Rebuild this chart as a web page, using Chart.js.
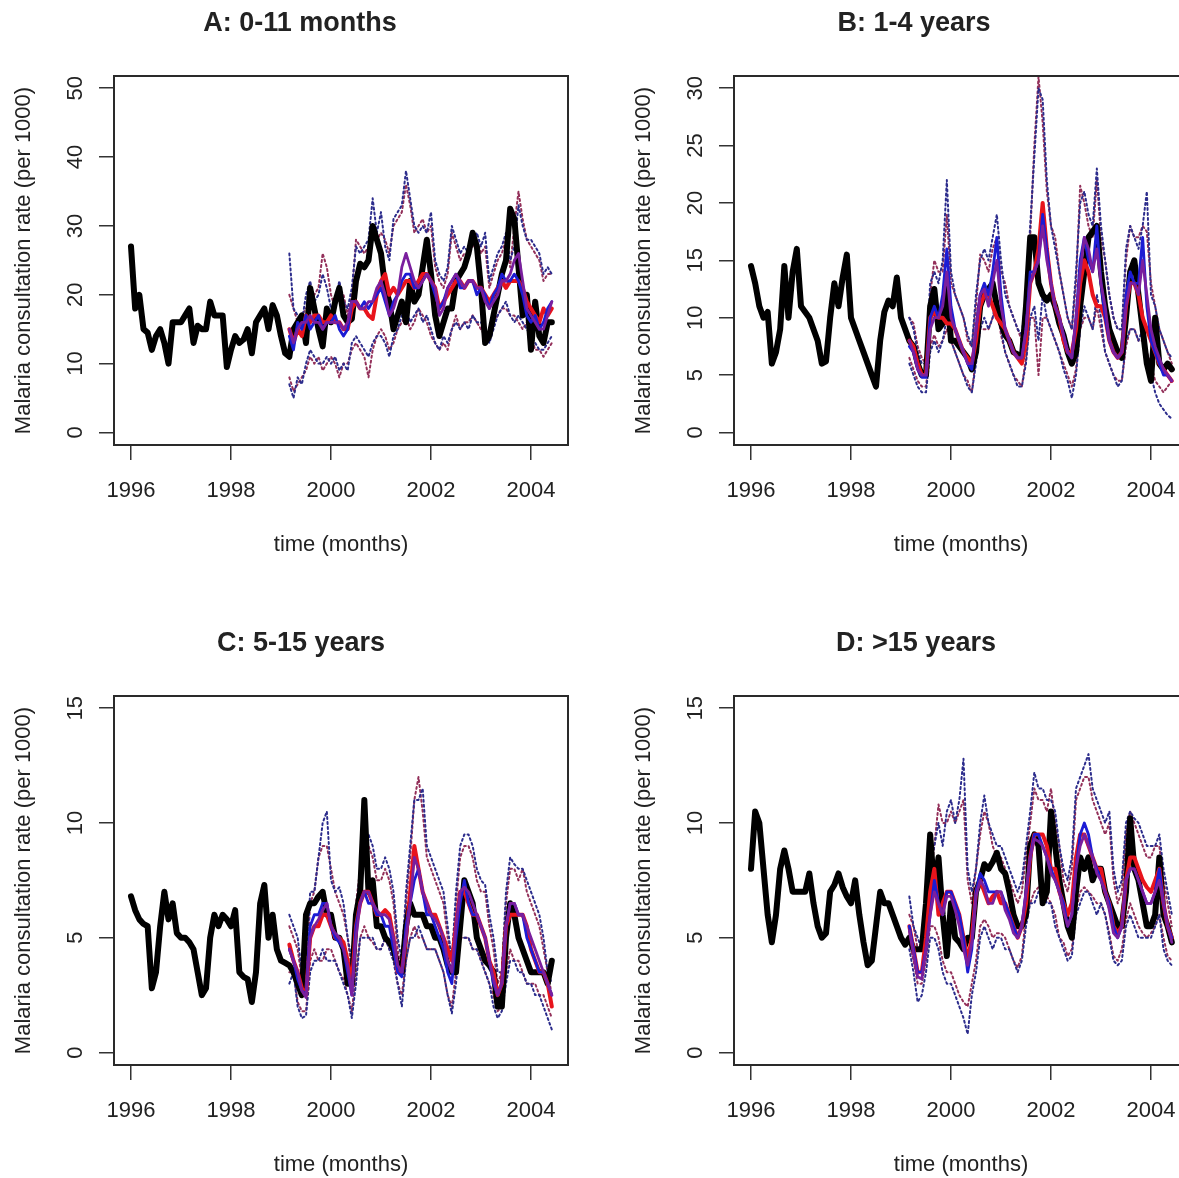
<!DOCTYPE html>
<html>
<head>
<meta charset="utf-8">
<script src="https://cdn.jsdelivr.net/npm/chart.js@4.4.1/dist/chart.umd.min.js"></script>
<style>
  html, body { margin: 0; padding: 0; background: #fff; }
  body { width: 1179px; height: 1178px; overflow: hidden; position: relative; }
  .panel { position: absolute; width: 600px; height: 600px; }
</style>
</head>
<body>
<div class="panel" style="left:0;top:0"><canvas id="panelA" width="600" height="600"></canvas></div>
<div class="panel" style="left:620px;top:0"><canvas id="panelB" width="600" height="600"></canvas></div>
<div class="panel" style="left:0;top:620px"><canvas id="panelC" width="600" height="600"></canvas></div>
<div class="panel" style="left:620px;top:620px"><canvas id="panelD" width="600" height="600"></canvas></div>
<script>
/**********************************************
data (monthly, observed from Jan 1996, predictions from Mar 1999)
***********************************************/

const xTicks = [1996, 1998, 2000, 2002, 2004];
const aYTicks = [0, 10, 20, 30, 40, 50];
const bYTicks = [0, 5, 10, 15, 20, 25, 30];
const cdYTicks = [0, 5, 10, 15];
const titles = ['A: 0-11 months', 'B: 1-4 years', 'C: 5-15 years', 'D: >15 years'];

// A: 0-11 months
const aObs = [
  27, 18, 20, 15, 14.5, 12, 14, 15, 13, 10, 16, 16,
  16, 17, 18, 13, 15.5, 15, 15, 19, 17, 17, 17, 9.5,
  12, 14, 13, 13.5, 15, 11.5, 16, 17, 18, 15, 18.5, 17,
  14, 11.5, 11, 15, 16, 17, 13, 21, 18, 15, 12.5, 18,
  16, 19, 21, 17, 16, 16.5, 22, 24.5, 24, 25, 30, 28,
  26, 21, 19, 15, 17, 19, 16, 22, 19, 20, 24, 28,
  23, 17, 14, 16, 18, 18, 22, 23, 24, 26, 29, 27,
  21, 13, 14, 17, 20, 23, 25, 32.5, 31, 24, 17, 20,
  12, 19, 14, 13, 16, 16
];
const aRed = [
  15, 13, 15, 14, 17, 16, 17, 17, 16, 16,
  17, 16, 16, 15, 15, 18, 19, 18, 18, 17, 16.5, 20,
  22, 23, 20, 21, 20, 21, 22, 22, 21, 22, 23, 23,
  22, 21, 18, 19, 20, 21, 22, 22, 21, 22, 22, 21,
  21, 20, 19, 20, 21, 22, 21, 22, 22, 22, 21, 19,
  18, 17, 16, 18, 17, 18
];
const aBlue = [
  14, 12, 16, 15, 17, 15, 16, 17, 15, 16,
  16, 17, 15, 14, 15, 19, 19, 18, 19, 18, 19, 20,
  21, 19, 17, 19, 20, 22, 23, 23, 21, 21, 22, 23,
  22, 20, 18, 19, 21, 22, 23, 21, 21, 22, 22, 20,
  21, 20, 18, 20, 21, 23, 22, 22, 23, 22, 20, 17,
  16, 17, 15, 16, 18, 19
];
const aPurple = [
  15, 13, 15, 16, 16, 17, 16, 16, 15, 16,
  16, 16, 16, 15, 16, 19, 19, 18, 18, 19, 19, 21,
  22, 20, 17, 18, 20, 24, 26, 24, 22, 21, 22, 23,
  22, 21, 17, 18, 21, 22, 23, 22, 21, 22, 22, 21,
  21, 19, 18, 19, 20, 22, 22, 23, 25, 26, 22, 18,
  17, 16, 15, 15, 17, 19
];
const aNavyUp = [
  26, 18, 17, 16, 20, 22, 19, 20, 23, 21,
  18, 19, 22, 19, 18, 21, 27, 26, 27, 28, 34, 29,
  32, 27, 25, 31, 32, 33, 38, 34, 30, 29, 30, 29,
  32, 25, 23, 22, 24, 30, 28, 26, 27, 26, 28, 29,
  27, 29, 22, 24, 26, 27, 29, 25, 27, 33, 30, 28,
  28, 27, 26, 23, 24, 23
];
const aMaroonUp = [
  20, 18, 16, 17, 18, 19, 20, 21, 26, 24,
  20, 18, 21, 20, 17, 20, 28, 27, 26, 27, 30, 28,
  29, 28, 26, 30, 31, 32, 36, 33, 29, 30, 31, 29,
  30, 24, 22, 21, 23, 29, 27, 25, 26, 26, 27, 28,
  26, 27, 21, 23, 25, 26, 28, 24, 30, 35, 31, 28,
  27, 26, 25, 22, 23, 23
];
const aNavyLo = [
  7, 5, 8, 7, 10, 12, 11, 10, 10, 11,
  10, 11, 9, 10, 9, 13, 14, 13, 12, 11, 13, 14,
  14, 13, 11, 14, 15, 17, 18, 16, 17, 18, 16, 17,
  15, 13, 12, 14, 13, 15, 16, 15, 16, 15, 17, 16,
  16, 15, 13, 15, 17, 18, 19, 17, 16, 17, 16, 15,
  14, 13, 12, 12, 13, 14
];
const aMaroonLo = [
  8, 6, 7, 8, 9, 11, 10, 11, 9, 10,
  11, 10, 8, 10, 10, 12, 13, 12, 11, 8, 12, 14,
  15, 14, 12, 13, 15, 16, 17, 15, 16, 18, 17, 16,
  14, 13, 12, 13, 12, 15, 17, 15, 16, 16, 17, 16,
  15, 14, 14, 16, 17, 18, 18, 17, 17, 16, 15, 16,
  14, 12, 12, 11, 12, 13
];

// B: 1-4 years
const bObs = [
  14.5, 13, 11, 10, 10.5, 6, 7, 9, 14.5, 10, 14, 16,
  11, 10.5, 10, 9, 8, 6, 6.2, 10, 13, 11, 13.5, 15.5,
  10, 9, 8, 7, 6, 5, 4, 8, 10.5, 11.5, 11, 13.5,
  10, 9, 8, 7.5, 6, 5, 5, 11, 12.5, 9, 9.5, 12.5,
  8, 8, 7.5, 7, 6.5, 5.5, 7, 11, 12, 12.5, 13, 11,
  9.5, 8.5, 8, 7, 6.8, 6.5, 11, 17, 17, 13, 12, 11.5,
  12, 11, 9.5, 8.5, 7, 6, 7, 11, 14, 17, 17.5, 18,
  14, 11, 9, 8, 7, 6.5, 10, 14, 15, 12, 9, 6,
  4.5, 10, 6, 5.5, 6, 5.5
];
const bRed = [
  8, 7.5, 6, 5, 5, 10, 10.5, 10, 10, 9.5,
  9.5, 9, 8, 7, 6.5, 6, 8, 11, 12, 12, 11, 10,
  9.5, 9, 8, 7, 6.5, 6, 8, 13, 14, 16, 20, 16,
  13, 11, 10, 8, 7, 7, 9, 13, 15, 14, 12, 11,
  11, 10, 8, 7, 6.5, 7, 11, 13, 13, 12, 10, 9,
  8, 7, 6, 5.5, 5, 4.5
];
const bBlue = [
  7.5, 7, 5.5, 4.8, 4.8, 10, 11, 10, 12, 16,
  11, 9, 8, 7, 6, 5.5, 9, 12, 13, 12, 14, 17,
  12, 9, 8, 7, 6.5, 6.5, 9, 14, 14, 15, 19, 16,
  13, 11, 10, 8.5, 7, 6.5, 10, 15, 17, 15, 14, 18,
  13, 10, 8, 7, 6.5, 7, 12, 14, 13, 13, 17, 11,
  8, 7, 6, 5, 5, 4.5
];
const bPurple = [
  8, 7, 5.5, 5, 5, 9, 10, 10, 11, 14,
  10, 9, 8, 7, 6, 6, 9, 12, 12.5, 11, 13, 15,
  11, 9, 8, 7, 6.5, 6.5, 9, 13, 14, 15, 18, 15,
  13, 11, 10, 8.5, 7, 6.5, 10, 14, 17, 16, 14, 16,
  13, 11, 8, 7, 6.5, 7, 11, 13, 13, 12, 15, 12,
  9, 7.5, 6.5, 5.5, 5, 4.5
];
const bNavyUp = [
  10, 9, 7, 6, 6, 13, 14, 13, 15, 22,
  14, 12, 11, 10, 8.5, 7.5, 12, 15, 16, 15, 17, 19,
  15, 12, 11, 10, 9, 8.5, 12, 18, 24, 30, 29, 22,
  18, 16, 14, 12, 10, 9, 14, 20, 21, 19, 18, 23,
  18, 15, 12, 10, 9, 9, 16, 18, 17, 16, 18, 21,
  12, 11, 9, 8, 7, 6.5
];
const bMaroonUp = [
  10, 9.5, 7.5, 6.5, 6, 12, 15, 14, 14, 19,
  13, 12, 11, 10, 8, 7.5, 11, 15.5, 15, 14, 16, 17,
  14, 13, 11, 10, 9, 8, 11, 17, 25, 31, 27, 21,
  18, 17, 14, 12, 10, 9, 13, 21.5, 20, 18, 17, 22,
  17, 15, 12, 10, 9, 9, 15, 18, 17, 17, 18, 17.5,
  13, 11, 9, 8, 7, 6
];
const bNavyLo = [
  6, 5, 4, 3.5, 3.5, 7, 8, 7, 8, 10,
  8, 7, 6, 5, 4, 3.5, 6, 9, 10, 9, 10, 12,
  9, 7, 6, 5, 4, 4, 6, 10, 11, 8, 12, 10,
  9, 8, 7, 5.5, 4.5, 3, 5, 9, 11, 10, 9, 12,
  10, 7, 6, 5, 4, 4.5, 8, 9, 9, 8, 9, 7,
  5, 3.5, 2.5, 2, 1.5, 1.2
];
const bMaroonLo = [
  6.5, 5.5, 4.5, 4, 4, 7.5, 8.5, 7.5, 8, 9,
  8, 7, 6, 5, 4.5, 3.5, 6.5, 9, 9, 9, 10, 11,
  8.5, 7, 6, 5, 4.5, 4, 6.5, 10, 10, 5, 10, 10,
  9, 8, 7, 6, 5, 4, 5.5, 9, 10, 10, 9, 11,
  9, 7, 6, 5, 4.5, 4.5, 7.5, 9, 9, 8, 8, 7,
  6, 4.5, 4, 3.5, 4, 4.5
];

// C: 5-15 years
const cObs = [
  6.8, 6.2, 5.8, 5.6, 5.5, 2.8, 3.5, 5.5, 7, 5.8, 6.5, 5.2,
  5, 5, 4.8, 4.5, 3.5, 2.5, 2.8, 5, 6, 5.5, 6, 5.8,
  5.5, 6.2, 3.5, 3.3, 3.2, 2.2, 3.5, 6.5, 7.3, 5, 6, 4.5,
  4, 3.9, 3.8, 3.5, 3, 2.5, 6, 6.5, 6.5, 6.8, 7, 6,
  6, 5, 5, 4.5, 3, 3, 6, 7, 11, 7, 7.5, 5.5,
  5.5, 5, 4.8, 4.5, 3.8, 3.5, 5.5, 6.5, 6, 6, 6, 5.5,
  5.5, 5, 5, 4.5, 3.8, 3.5, 3.5, 5.5, 7.5, 7, 6.5, 5,
  4.5, 4, 3.8, 3.5, 2, 2, 5, 6.5, 6, 5, 4.5, 4,
  3.5, 3.5, 3.5, 3.5, 3, 4
];
const cRed = [
  4.7, 4, 3.5, 2.8, 2.5, 5, 5.5, 5.5, 6, 6,
  5.5, 5, 5, 4.8, 4, 3, 5.5, 6.5, 7, 7, 6.5, 6,
  6, 6.2, 6, 5, 3.5, 3.5, 5, 7, 9, 8, 7, 6.5,
  6, 6, 5.5, 5, 4.5, 4, 5.5, 7, 7, 6.5, 6, 6,
  5.5, 5, 4, 3.5, 2.5, 3, 5.5, 6, 6, 6, 6, 5.5,
  4.5, 4, 3.5, 3.5, 3, 2
];
const cBlue = [
  4.5, 4, 3.2, 2.7, 2.5, 5.5, 6, 6, 6.5, 6.5,
  5.5, 5, 4.8, 4.5, 3.5, 2.5, 5.5, 6.5, 7, 6.5, 6.5, 6,
  6, 5.5, 5.5, 4.5, 3.5, 3.3, 5.5, 6.5, 7.5, 8, 7, 6,
  6, 5.5, 5, 4.5, 3.5, 3, 5, 6.5, 7.5, 6.5, 6, 6,
  5.5, 5, 4, 3, 2.5, 3, 5.5, 6.5, 6.5, 6, 6, 5,
  4.5, 4, 3.5, 3.5, 3, 2.5
];
const cPurple = [
  4.5, 4, 3.5, 2.7, 2.4, 5, 5.5, 5.8, 6.2, 6.5,
  5.5, 5.2, 5, 4.5, 3.8, 2.5, 5, 6.5, 7, 7, 6.5, 6.2,
  6, 6, 5.8, 5, 3.8, 3.5, 5, 6.5, 8.5, 8, 7, 6.5,
  6, 5.8, 5.5, 5, 4, 3.5, 5.5, 7, 7.2, 7, 6.5, 6,
  5.5, 5, 4, 3.2, 2.5, 3, 5.5, 6.5, 6.5, 6, 6, 5.5,
  5, 4.5, 4, 3.5, 3, 2.5
];
const cNavyUp = [
  6, 5.5, 5, 3.5, 3.5, 7, 7, 8.5, 10, 10.5,
  7.5, 7, 7.2, 6.5, 5, 4, 6, 8, 9, 9.5, 9, 8,
  8, 8.5, 8, 7, 5, 4, 7, 9, 11, 11, 11.5, 9,
  8.5, 8, 7.5, 7, 5.5, 4, 7, 9, 9.5, 9.5, 9, 8,
  7.5, 7.3, 6, 5, 3.5, 3.5, 7, 8.5, 8.2, 8, 8, 7.5,
  7, 6.5, 6, 5, 3.5, 3
];
const cMaroonUp = [
  5.5, 5, 4.5, 3.2, 3, 6.5, 7, 8.5, 9, 9,
  8, 7, 6.5, 6, 5, 3.5, 6.5, 8, 9.5, 9, 8.5, 7.5,
  7.5, 8, 7.5, 6.5, 4.5, 3.5, 6.5, 8.5, 11, 12, 10.5, 8.5,
  8, 7.5, 7, 6.5, 5, 4, 6.5, 8.5, 9, 9, 8.5, 7.5,
  7, 7, 5.5, 4.5, 3, 3.5, 6.5, 8, 8, 7.5, 8, 7,
  6.5, 6, 5.5, 4.5, 3.5, 2.5
];
const cNavyLo = [
  3, 3.5, 2, 1.5, 1.6, 3.5, 4, 4, 4.5, 4,
  4, 4, 3.5, 3, 2.5, 1.5, 3, 5, 5, 5, 5, 4.5,
  4.5, 5, 4.5, 4, 3, 2, 4, 5, 5, 5.5, 5, 4.5,
  4.5, 4.5, 4, 3.5, 2.5, 1.7, 3, 5, 5, 5, 4.5, 4.5,
  4, 3.5, 3, 2, 1.5, 1.8, 3, 4, 4, 3.5, 3.5, 3,
  3, 2.5, 2.5, 2, 1.5, 1
];
const cMaroonLo = [
  3.5, 3.5, 2.2, 1.8, 1.8, 4, 4.5, 4, 4, 4.5,
  4.5, 4, 3.5, 3.2, 2.5, 1.8, 3.5, 5, 5.5, 5, 4.8, 4.5,
  4.5, 5, 4.5, 4, 3, 2.5, 4, 5, 5.5, 5, 5, 4.5,
  4.5, 4.5, 4, 3.5, 2.5, 2, 3.5, 5, 5, 5, 4.5, 4.5,
  4, 3.5, 3, 2.5, 1.8, 2, 3.5, 4.5, 4, 4, 3.5, 3,
  3, 3, 2.5, 2.5, 2, 1.5
];

// D: >15 years
const dObs = [
  8, 10.5, 10, 8, 6, 4.8, 6, 8, 8.8, 8, 7, 7,
  7, 7, 7.8, 6.5, 5.5, 5, 5.2, 7, 7.3, 7.8, 7.2, 6.8,
  6.5, 7.5, 6, 4.8, 3.8, 4, 5.5, 7, 6.5, 6.5, 6, 5.5,
  5, 4.7, 5, 4.5, 4.5, 4.5, 6.5, 9.5, 7, 8.5, 6, 4.2,
  6.5, 5, 4.8, 4.5, 5, 5, 7, 7.5, 8.2, 8, 8.3, 8.7,
  8, 7.8, 7, 6, 5.5, 5.5, 6, 9, 9.5, 9, 6.5, 7,
  10.5, 9, 7.5, 6.5, 5.5, 5, 7, 8.5, 8, 8.5, 7.5, 8,
  8, 7, 6.5, 6, 5.5, 5.5, 7, 10.2, 8, 7.5, 6.5, 5.5,
  5.5, 6, 8.5, 6, 5.5, 4.8
];
const dRed = [
  5.5, 4.5, 3.5, 3.5, 5, 7, 8, 6, 6.5, 7,
  7, 6.5, 6, 5, 4, 5, 7, 7.5, 7, 6.5, 6.8, 7,
  6.5, 6.5, 6, 5.5, 5, 5.5, 6.5, 8.5, 9.5, 9.5, 9.5, 9,
  8, 8, 7, 6.5, 6, 6.5, 8.5, 9.5, 9.5, 9, 8.5, 8,
  8, 7, 6.5, 5.5, 5.2, 5.5, 7.5, 8.5, 8.5, 8, 7.5, 7.2,
  7, 7.5, 8, 6.5, 5.5, 5
];
const dBlue = [
  5.5, 4.5, 3.5, 3.5, 4.5, 6, 7.5, 6.5, 6, 7,
  7, 6.5, 6, 5, 3.5, 4.5, 7, 7.8, 7.5, 7, 7, 7,
  7, 6.5, 6, 5.5, 5, 5.5, 7, 8.5, 9.5, 9.5, 9, 8.5,
  8, 7.5, 7, 6.5, 5.5, 6, 8, 9.5, 10, 9.5, 8.5, 8,
  7.5, 7, 6.5, 5.5, 5, 5.5, 7.5, 8, 8, 7.5, 7, 6.5,
  6.5, 7, 8, 6.5, 5.5, 5
];
const dPurple = [
  5.3, 4.3, 3.3, 3.2, 4.5, 6, 7, 6.5, 6, 6.8,
  6.8, 6.2, 5.5, 4.5, 3.8, 4.8, 6.8, 7.5, 7.2, 6.5, 6.5, 7,
  7, 6.2, 5.8, 5.2, 5, 5.5, 7, 8.5, 9.3, 9.2, 9, 8.5,
  7.8, 7.5, 7, 6.2, 5.5, 6, 8, 9, 9.5, 9, 8.5, 7.8,
  7.5, 7, 6.2, 5.2, 5, 5.5, 7.5, 8, 8, 7.5, 7, 6.5,
  6.5, 7, 7.5, 6.5, 5.5, 4.8
];
const dNavyUp = [
  6.8, 5.5, 5, 4.5, 5.5, 8, 9, 10, 9, 10.5,
  11, 10, 11, 12.8, 8, 7, 8, 10, 11.2, 10, 9.5, 9,
  9, 8.5, 8, 7.5, 7, 7.5, 9, 10.5, 12.2, 11.5, 11.5, 11,
  11, 10.5, 9, 8, 7.5, 8.5, 11.5, 12, 12.5, 13, 11.5, 11,
  10.5, 10, 10.5, 8, 7, 7.5, 10, 10.5, 10.2, 10, 9.5, 9,
  9, 9, 9.5, 8, 7, 6
];
const dMaroonUp = [
  6, 5.5, 4.5, 4.5, 5.5, 7.5, 9, 10.8, 10, 10,
  10.5, 10, 10.5, 11, 7.5, 6.5, 8, 9.5, 10.5, 10, 9, 8.5,
  8.5, 8, 7.5, 7, 6.5, 7, 8.5, 10, 11.5, 11, 11, 10.5,
  11.5, 10, 9, 7.5, 7, 8, 11, 11.5, 12, 12, 11, 10.5,
  10, 9.5, 10, 7.5, 6.5, 7, 9.5, 10.5, 10, 9.5, 9, 8.5,
  8.5, 9, 9, 7.5, 6.5, 5.5
];
const dNavyLo = [
  4.5, 3.5, 2.2, 2.5, 3.5, 5, 5, 4.5, 3.5, 3,
  3, 2.5, 2, 1.5, 0.8, 2.5, 3.5, 5, 5.5, 5, 4.5, 5,
  5, 4.5, 4.5, 4, 3.5, 4, 5.5, 6.5, 6.5, 7, 7, 6.5,
  6.5, 5.5, 5, 4.5, 4, 4.2, 6, 6.5, 7, 7, 6.5, 6,
  6.5, 6, 5, 4, 3.8, 4, 5.5, 6, 5.5, 5, 5, 5,
  5, 5.5, 6, 4.5, 4, 3.8
];
const dMaroonLo = [
  4.8, 4, 3, 3, 4, 5.5, 5.5, 5, 4, 3.5,
  3.5, 3, 2.5, 2.2, 2, 3, 4, 5.5, 5.8, 5.5, 5, 5.2,
  5.2, 5, 4.5, 4, 3.7, 4.2, 6, 6.5, 7, 7.2, 7, 6.8,
  6.5, 6, 5, 4.8, 4.2, 4.5, 6.2, 7, 7.2, 7, 6.8, 6.5,
  6.5, 6, 5.2, 4.2, 4, 4.5, 5.8, 6.5, 6, 5.5, 5.2, 5,
  5.2, 5.5, 6, 5, 4.2, 4
];

/**********************************************
chart setup
***********************************************/

const FONT = '"Liberation Sans", Arial, Helvetica, sans-serif';
Chart.defaults.font.family = FONT;

const obsTime = aObs.map((v, k) => 1996 + k / 12);
const predTime = aRed.map((v, j) => 1999 + (2 + j) / 12);

const pts = (times, vals) => vals.map((v, i) => ({ x: times[i], y: v }));

// R style plot frame, rotated y tick labels and titles
const rFrame = {
  id: 'rFrame',
  afterDraw(chart, args, opts) {
    const ctx = chart.ctx;
    const a = chart.chartArea;
    const ys = chart.scales.y;
    ctx.save();
    ctx.strokeStyle = '#2a2a2a';
    ctx.lineWidth = 2;
    ctx.strokeRect(a.left, a.top, a.right - a.left, a.bottom - a.top);

    ctx.fillStyle = '#222';
    ctx.textAlign = 'center';
    ctx.textBaseline = 'middle';
    ctx.font = '22px ' + FONT;
    ys.ticks.forEach(t => {
      ctx.save();
      ctx.translate(a.left - 38, ys.getPixelForValue(t.value));
      ctx.rotate(-Math.PI / 2);
      ctx.fillText(String(t.value), 0, 0);
      ctx.restore();
    });

    ctx.save();
    ctx.translate(24, (a.top + a.bottom) / 2);
    ctx.rotate(-Math.PI / 2);
    ctx.fillText('Malaria consultation rate (per 1000)', 0, 0);
    ctx.restore();

    ctx.fillText('time (months)', (a.left + a.right) / 2, 545);

    ctx.font = 'bold 27px ' + FONT;
    ctx.fillText(opts.title, opts.titleX, 24);
    ctx.restore();
  }
};

const dotted = (vals, color) => ({
  data: pts(predTime, vals), borderColor: color, borderWidth: 2,
  borderDash: [2, 3], order: 5
});

function makePanel(id, title, titleX, yMin, yMax, yTicks, s) {
  new Chart(document.getElementById(id), {
    type: 'line',
    data: {
      datasets: [
        dotted(s.navyUp, '#2c2c8c'),
        dotted(s.maroonUp, '#93305a'),
        dotted(s.navyLo, '#2c2c8c'),
        dotted(s.maroonLo, '#93305a'),
        { data: pts(obsTime, s.obs), borderColor: '#000', borderWidth: 6, order: 4 },
        { data: pts(predTime, s.red), borderColor: '#e8141c', borderWidth: 4, order: 3 },
        { data: pts(predTime, s.blue), borderColor: '#1c1cd4', borderWidth: 2.8, order: 2 },
        { data: pts(predTime, s.purple), borderColor: '#7a1f9e', borderWidth: 2.8, order: 1 }
      ]
    },
    options: {
      responsive: false,
      animation: false,
      devicePixelRatio: 1,
      events: [],
      layout: { padding: { top: 76, right: 32, left: 0, bottom: 0 } },
      elements: {
        point: { radius: 0 },
        line: { tension: 0, borderJoinStyle: 'round', borderCapStyle: 'round', fill: false }
      },
      scales: {
        x: {
          type: 'linear', min: 1995.66, max: 2004.74,
          afterBuildTicks: sc => { sc.ticks = xTicks.map(v => ({ value: v })); },
          afterFit: sc => { sc.height = 155; },
          grid: { drawOnChartArea: false, drawTicks: true, tickLength: 15, color: '#333', lineWidth: 1.5 },
          border: { display: false },
          ticks: {
            color: '#222', font: { size: 22 }, padding: 18,
            maxRotation: 0, autoSkip: false, callback: v => String(v)
          }
        },
        y: {
          type: 'linear', min: yMin, max: yMax,
          afterBuildTicks: sc => { sc.ticks = yTicks.map(v => ({ value: v })); },
          afterFit: sc => { sc.width = 114; },
          grid: { drawOnChartArea: false, drawTicks: true, tickLength: 15, color: '#333', lineWidth: 1.5 },
          border: { display: false },
          ticks: { display: false }
        }
      },
      plugins: {
        legend: { display: false },
        tooltip: { enabled: false },
        rFrame: { title: title, titleX: titleX }
      }
    },
    plugins: [rFrame]
  });
}

makePanel('panelA', titles[0], 300, -1.82, 51.77, aYTicks, {
  obs: aObs, red: aRed, blue: aBlue, purple: aPurple,
  navyUp: aNavyUp, maroonUp: aMaroonUp, navyLo: aNavyLo, maroonLo: aMaroonLo
});
makePanel('panelB', titles[1], 294, -1.09, 31.06, bYTicks, {
  obs: bObs, red: bRed, blue: bBlue, purple: bPurple,
  navyUp: bNavyUp, maroonUp: bMaroonUp, navyLo: bNavyLo, maroonLo: bMaroonLo
});
makePanel('panelC', titles[2], 301, -0.544, 15.53, cdYTicks, {
  obs: cObs, red: cRed, blue: cBlue, purple: cPurple,
  navyUp: cNavyUp, maroonUp: cMaroonUp, navyLo: cNavyLo, maroonLo: cMaroonLo
});
makePanel('panelD', titles[3], 296, -0.544, 15.53, cdYTicks, {
  obs: dObs, red: dRed, blue: dBlue, purple: dPurple,
  navyUp: dNavyUp, maroonUp: dMaroonUp, navyLo: dNavyLo, maroonLo: dMaroonLo
});
</script>
</body>
</html>
